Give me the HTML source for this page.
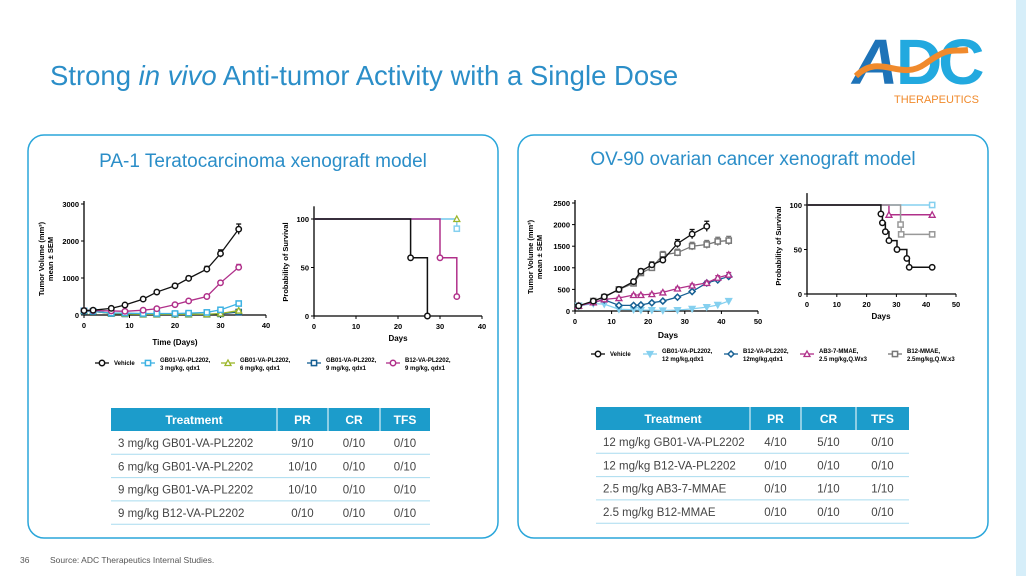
<!DOCTYPE html>
<html><head><meta charset="utf-8"><style>
html,body{margin:0;padding:0;background:#fff;width:1026px;height:576px;overflow:hidden}
svg{display:block;font-family:"Liberation Sans",sans-serif}
</style></head><body>
<svg id="s" width="1026" height="576" viewBox="0 0 1026 576">
<rect x="1016" y="0" width="10" height="576" fill="#d6eef9"/>
<text x="50" y="85" font-size="27.5" fill="#2b8ec8">Strong <tspan font-style="italic">in vivo</tspan> Anti-tumor Activity with a Single Dose</text>
<g>
<text x="852" y="84" font-size="64" font-weight="bold" fill="#1e73b8" letter-spacing="-6" font-style="italic">A</text>
<text x="896" y="84" font-size="64" font-weight="bold" fill="#22a9df" letter-spacing="-4">DC</text>
<path d="M856 76 C880 52,900 82,925 64 S950 52,968 50" stroke="#f08a2c" stroke-width="6" fill="none"/>
<text x="894" y="103" font-size="11" fill="#f08a2c">THERAPEUTICS</text>
</g>
<rect x="28" y="135" width="470" height="403" rx="16" fill="none" stroke="#2aa6da" stroke-width="1.5"/>
<rect x="518" y="135" width="470" height="403" rx="16" fill="none" stroke="#2aa6da" stroke-width="1.5"/>
<text x="263" y="167" font-size="19" fill="#2b8ec8" text-anchor="middle">PA-1 Teratocarcinoma xenograft model</text>
<text x="753" y="165" font-size="19" fill="#2b8ec8" text-anchor="middle">OV-90 ovarian cancer xenograft model</text>
<text x="20" y="563" font-size="8.5" fill="#555">36</text>
<text x="50" y="563" font-size="8.5" fill="#555">Source: ADC Therapeutics Internal Studies.</text>
</svg>
<script>
// ===== Chart 1: PA-1 tumor volume =====
const c1Days=[0,2,6,9,13,16,20,23,27,30,34];
const c1Vehicle=[120,130,180,270,430,620,790,990,1240,1660,2320];
const c1Gb3=[110,100,50,50,40,40,40,50,70,140,310];
const c1Gb6=[110,100,40,30,20,20,20,20,20,40,120];
const c1Gb9=[110,100,40,30,20,20,20,20,20,30,80];
const c1B12=[120,120,110,100,130,170,280,380,500,870,1290];
const c1Yticks=[0,1000,2000,3000];
const c1Xticks=[0,10,20,30,40];
// ===== Chart 2: PA-1 survival =====
const s1VehT=[0,23,27];const s1VehP=[100,60,0];
const s1B12T=[0,30,34];const s1B12P=[100,60,20];
const s1Gb3T=[0,34];const s1Gb3P=[100,90];
const s1OthT=[0,34];const s1OthP=[100,100];
const s1End=[34];
const s1Yticks=[0,50,100];const s1Xticks=[0,10,20,30,40];
// ===== Chart 3: OV-90 tumor volume =====
const c3Days=[1,5,8,12,16,18,21,24,28,32,36,39,42];
const c3Vehicle=[120,230,330,500,680,920,1070,1180,1560,1780,1960];
const c3Gb12=[120,170,160,40,30,20,20,10,20,50,90,140,230];
const c3B12va=[120,200,260,130,130,140,190,230,320,450,650,720,800];
const c3Ab3=[120,200,270,300,370,370,390,430,520,590,650,770,840];
const c3B12mm=[120,230,320,500,640,880,1000,1300,1350,1500,1540,1610,1630];
const c3Yticks=[0,500,1000,1500,2000,2500];const c3Xticks=[0,10,20,30,40,50];
// ===== Chart 4: OV-90 survival =====
const s2VehT=[0,24.8,25.3,26.3,27.5,30.2,33.5,34.3,42];const s2VehP=[100,90,80,70,60,50,40,30,30];
const s2AbT=[0,27.5,42];const s2AbP=[100,89,89];
const s2B12T=[0,31.4,31.6,42];const s2B12P=[100,78,67,67];
const s2GbT=[0,42];const s2GbP=[100,100];
const s2Yticks=[0,50,100];const s2Xticks=[0,10,20,30,40,50];

const NS="http://www.w3.org/2000/svg";const S=document.getElementById('s');
function mk(tag,at,parent){const e=document.createElementNS(NS,tag);for(const k in at)e.setAttribute(k,at[k]);(parent||S).appendChild(e);return e;}
function lin(d0,d1,r0,r1){return v=>r0+(v-d0)/(d1-d0)*(r1-r0);}
function axes(g,sx,sy,xt,yt,xmin,xmax,ymin,ymax){
  mk('line',{x1:sx(xmin),x2:sx(xmax),y1:sy(ymin),y2:sy(ymin),stroke:'#000','stroke-width':1.3},g);
  mk('line',{x1:sx(xmin),x2:sx(xmin),y1:sy(ymin),y2:sy(ymax)-3,stroke:'#000','stroke-width':1.3},g);
  xt.forEach(v=>{mk('line',{x1:sx(v),x2:sx(v),y1:sy(ymin),y2:sy(ymin)+3,stroke:'#000'},g);
    const t=mk('text',{x:sx(v),y:sy(ymin)+13,'font-size':7.5,'font-weight':'bold','text-anchor':'middle'},g);t.textContent=v;});
  yt.forEach(v=>{mk('line',{x1:sx(xmin)-3,x2:sx(xmin),y1:sy(v),y2:sy(v),stroke:'#000'},g);
    const t=mk('text',{x:sx(xmin)-5,y:sy(v)+3,'font-size':7.5,'font-weight':'bold','text-anchor':'end'},g);t.textContent=v;});
}
function marker(g,x,y,shape,col,fill){
  if(shape==='c')mk('circle',{cx:x,cy:y,r:2.7,fill:fill||'#fff',stroke:col,'stroke-width':1.5},g);
  else if(shape==='s')mk('rect',{x:x-2.6,y:y-2.6,width:5.2,height:5.2,fill:fill||'#fff',stroke:col,'stroke-width':1.5},g);
  else if(shape==='t')mk('path',{d:`M${x} ${y-3}L${x+3} ${y+2.5}L${x-3} ${y+2.5}Z`,fill:fill||'#fff',stroke:col,'stroke-width':1.3},g);
  else if(shape==='v')mk('path',{d:`M${x} ${y+3}L${x+3} ${y-2.5}L${x-3} ${y-2.5}Z`,fill:col,stroke:col,'stroke-width':1.3},g);
  else if(shape==='d')mk('path',{d:`M${x} ${y-3}L${x+3} ${y}L${x} ${y+3}L${x-3} ${y}Z`,fill:'#fff',stroke:col,'stroke-width':1.5},g);
}
function series(g,name,xs,ys,sx,sy,col,shape){
  const sg=mk('g',{},g);
  
  
  const pts=ys.map((v,i)=>sx(xs[i])+','+sy(v)).join(' ');
  mk('polyline',{points:pts,fill:'none',stroke:col,'stroke-width':1.3},sg);
  ys.forEach((v,i)=>{const e=Math.max(15,v*0.06);const x=sx(xs[i]);
    mk('line',{x1:x,x2:x,y1:sy(v+e),y2:sy(Math.max(0,v-e)),stroke:col,'stroke-width':1.3},sg);
    mk('line',{x1:x-2.5,x2:x+2.5,y1:sy(v+e),y2:sy(v+e),stroke:col,'stroke-width':1.3},sg);
    marker(sg,x,sy(v),shape,col);});
}
function steps(g,name,ts,ps,sx,sy,col,shape,marks){
  const sg=mk('g',{},g);
  
  
  let d=`M${sx(ts[0])} ${sy(ps[0])}`;
  for(let i=1;i<ts.length;i++){d+=`H${sx(ts[i])}V${sy(ps[i])}`;}
  mk('path',{d:d,fill:'none',stroke:col,'stroke-width':1.5},sg);
  for(let i=1;i<ts.length;i++) if(marks) marker(sg,sx(ts[i]),sy(ps[i]),shape,col);
}
function ylabel(g,x,y,lines){const t=mk('text',{transform:`translate(${x},${y}) rotate(-90)`,'font-size':7.5,'font-weight':'bold','text-anchor':'middle'},g);
  lines.forEach((l,i)=>{const ts=mk('tspan',{x:0,dy:i?9:0},t);ts.textContent=l;});}
function txt(g,x,y,s,size,anchor){const t=mk('text',{x:x,y:y,'font-size':size||7.5,'font-weight':'bold','text-anchor':anchor||'middle'},g);t.textContent=s;return t;}
function legend(g,x,y,col,shape,l1,l2){
  const lg=mk('g',{},g);
  
  
  mk('line',{x1:x,x2:x+14,y1:y,y2:y,stroke:col,'stroke-width':1.3},lg);marker(lg,x+7,y,shape,col);
  const t=mk('text',{x:x+19,y:y+(l2?-1:2),'font-size':6,'font-weight':'bold'},lg);t.textContent=l1;
  if(l2){const t2=mk('text',{x:x+19,y:y+7,'font-size':6,'font-weight':'bold'},lg);t2.textContent=l2;}
}
const BLK='#111',LB='#3eb2e3',YG='#9cb62a',DB='#155f93',MG='#b0308a',GR='#777',LB2='#85d0ef';

// chart1
let g=mk('g',{});
let sx=lin(0,40,84,266),sy=lin(0,3000,315,204);
axes(g,sx,sy,c1Xticks,c1Yticks,0,40,0,3000);
series(g,'series-gb9',c1Days,c1Gb9,sx,sy,DB,'s');
series(g,'series-gb6',c1Days,c1Gb6,sx,sy,YG,'t');
series(g,'series-gb3',c1Days,c1Gb3,sx,sy,LB,'s');
series(g,'series-b12',c1Days,c1B12,sx,sy,MG,'c');
series(g,'series-vehicle',c1Days,c1Vehicle,sx,sy,BLK,'c');
txt(g,175,345,'Time (Days)',8);
ylabel(g,44,259,['Tumor Volume (mm³)','mean ± SEM']);
legend(g,95,363,BLK,'c','Vehicle');
legend(g,141,363,LB,'s','GB01-VA-PL2202,','3 mg/kg, qdx1');
legend(g,221,363,YG,'t','GB01-VA-PL2202,','6 mg/kg, qdx1');
legend(g,307,363,DB,'s','GB01-VA-PL2202,','9 mg/kg, qdx1');
legend(g,386,363,MG,'c','B12-VA-PL2202,','9 mg/kg, qdx1');

// chart2
g=mk('g',{});
sx=lin(0,40,314,482);sy=lin(0,100,316,219);
axes(g,sx,sy,s1Xticks,s1Yticks,0,40,0,110);
steps(g,'survival-others',s1OthT,s1OthP,sx,sy,LB2,'s',false);
steps(g,'survival-gb3',s1Gb3T,s1Gb3P,sx,sy,LB2,'s',true);
marker(g,sx(s1End[0]),sy(100),'t',YG);
steps(g,'survival-b12',s1B12T,s1B12P,sx,sy,MG,'c',true);
steps(g,'survival-vehicle',s1VehT,s1VehP,sx,sy,BLK,'c',true);
txt(g,398,341,'Days',8);
ylabel(g,288,262,['Probability of Survival']);

// chart3
g=mk('g',{});
sx=lin(0,50,575,758);sy=lin(0,2500,311,203);
axes(g,sx,sy,c3Xticks,c3Yticks,0,50,0,2500);
series(g,'series-b12-mmae',c3Days,c3B12mm,sx,sy,GR,'s');
series(g,'series-gb01-12',c3Days,c3Gb12,sx,sy,LB2,'v');
series(g,'series-b12va-12',c3Days,c3B12va,sx,sy,DB,'d');
series(g,'series-ab3',c3Days,c3Ab3,sx,sy,MG,'t');
series(g,'series-vehicle',c3Days.slice(0,c3Vehicle.length),c3Vehicle,sx,sy,BLK,'c');
txt(g,668,338,'Days',8.5);
ylabel(g,533,257,['Tumor Volume (mm³)','mean ± SEM']);
legend(g,591,354,BLK,'c','Vehicle');
legend(g,643,354,LB2,'v','GB01-VA-PL2202,','12 mg/kg,qdx1');
legend(g,724,354,DB,'d','B12-VA-PL2202,','12mg/kg,qdx1');
legend(g,800,354,MG,'t','AB3-7-MMAE,','2.5 mg/kg,Q.Wx3');
legend(g,888,354,GR,'s','B12-MMAE,','2.5mg/kg,Q.W.x3');

// chart4
g=mk('g',{});
sx=lin(0,50,807,956);sy=lin(0,100,294,205);
axes(g,sx,sy,s2Xticks,s2Yticks,0,50,0,110);
steps(g,'survival-gb01',s2GbT,s2GbP,sx,sy,LB2,'s',true);
steps(g,'survival-ab3',s2AbT,s2AbP,sx,sy,MG,'t',true);
steps(g,'survival-b12-mmae',s2B12T,s2B12P,sx,sy,'#999','s',true);
steps(g,'survival-vehicle',s2VehT,s2VehP,sx,sy,BLK,'c',true);
txt(g,881,319,'Days',8);
ylabel(g,781,246,['Probability of Survival']);

// tables
function table(name,x,y,cols,rows){
  const tg=mk('g',{});
  
  
  const w=cols.reduce((a,c)=>a+c.w,0);
  mk('rect',{x:x,y:y,width:w,height:23,fill:'#1c9ccb'},tg);
  let cx=x;cols.forEach((c,i)=>{if(i)mk('line',{x1:cx,x2:cx,y1:y,y2:y+23,stroke:'#fff','stroke-width':1},tg);
    const t=mk('text',{x:cx+c.w/2,y:y+16,'font-size':12,'font-weight':'bold',fill:'#fff','text-anchor':'middle'},tg);t.textContent=c.h;cx+=c.w;});
  rows.forEach((r,ri)=>{const ry=y+23+ri*23.3;
    mk('line',{x1:x,x2:x+w,y1:ry+23.3,y2:ry+23.3,stroke:'#a9dcef','stroke-width':1},tg);
    let cx=x;r.forEach((v,i)=>{const t=mk('text',{x:i?cx+cols[i].w/2:cx+7,y:ry+16,'font-size':11.5,fill:'#444','text-anchor':i?'middle':'start'},tg);t.textContent=v;cx+=cols[i].w;});});
}
table('pa1-response-table',111,408,[{h:'Treatment',w:166},{h:'PR',w:51},{h:'CR',w:52},{h:'TFS',w:50}],
 [['3 mg/kg GB01-VA-PL2202','9/10','0/10','0/10'],['6 mg/kg GB01-VA-PL2202','10/10','0/10','0/10'],
  ['9 mg/kg GB01-VA-PL2202','10/10','0/10','0/10'],['9 mg/kg B12-VA-PL2202','0/10','0/10','0/10']]);
table('ov90-response-table',596,407,[{h:'Treatment',w:154},{h:'PR',w:51},{h:'CR',w:55},{h:'TFS',w:53}],
 [['12 mg/kg GB01-VA-PL2202','4/10','5/10','0/10'],['12 mg/kg B12-VA-PL2202','0/10','0/10','0/10'],
  ['2.5 mg/kg AB3-7-MMAE','0/10','1/10','1/10'],['2.5 mg/kg B12-MMAE','0/10','0/10','0/10']]);
</script>
</body></html>
